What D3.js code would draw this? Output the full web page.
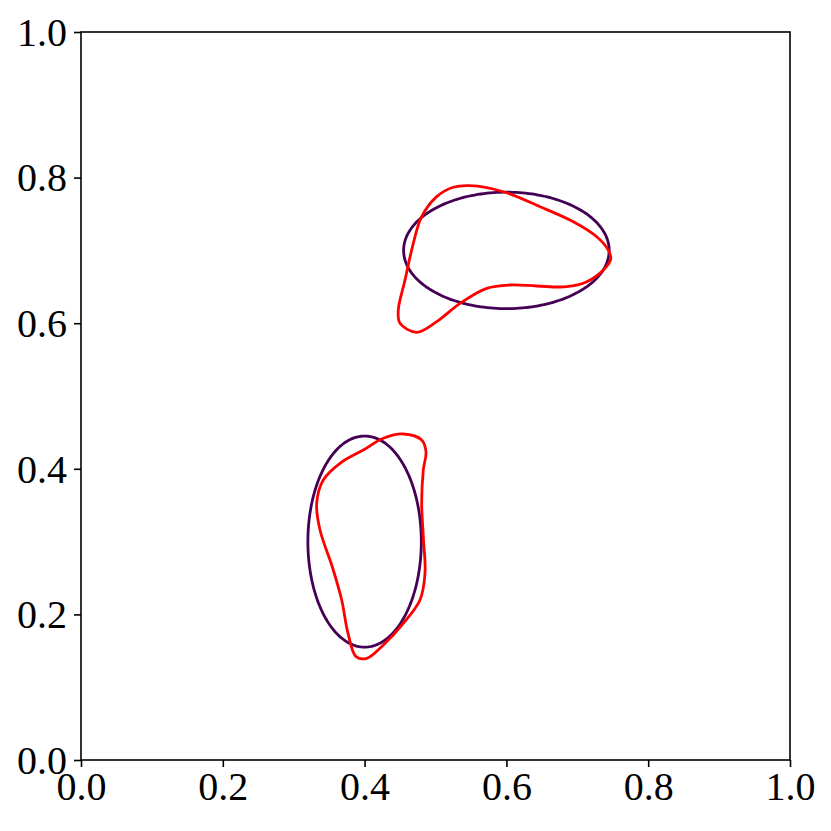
<!DOCTYPE html>
<html><head><meta charset="utf-8">
<script src="https://cdn.jsdelivr.net/npm/d3@7"></script>
<style>body{margin:0;background:#fff}</style>
</head><body>
<svg id="c" width="831" height="831"></svg>
<script>
const tickValues = [0.0, 0.2, 0.4, 0.6, 0.8, 1.0];
const ellipses = [
  {cx: 0.6, cy: 0.7, rx: 0.145, ry: 0.08},
  {cx: 0.4, cy: 0.3, rx: 0.08, ry: 0.145}
];
const redCurveUpper = [
  [0.5487,0.7889],[0.5956,0.7806],[0.6474,0.7600],[0.6944,0.7394],[0.7274,0.7188],
  [0.7437,0.7005],[0.7471,0.6878],[0.7367,0.6731],[0.7133,0.6570],[0.6850,0.6501],
  [0.6427,0.6511],[0.6051,0.6525],[0.5722,0.6479],[0.5346,0.6273],[0.5017,0.6021],
  [0.4735,0.5875],[0.4499,0.5999],[0.4475,0.6181],[0.4570,0.6593],[0.4687,0.7098],
  [0.4805,0.7463],[0.5017,0.7738],[0.5251,0.7867]
];
const redCurveLower = [
  [0.4546,0.4478],[0.4805,0.4396],[0.4866,0.4235],[0.4828,0.3984],[0.4805,0.3526],
  [0.4828,0.3067],[0.4852,0.2565],[0.4781,0.2198],[0.4546,0.1878],[0.4264,0.1580],
  [0.4030,0.1397],[0.3880,0.1420],[0.3766,0.1740],[0.3677,0.2198],[0.3544,0.2655],
  [0.3371,0.3159],[0.3324,0.3526],[0.3417,0.3846],[0.3653,0.4076],[0.3982,0.4258],
  [0.4264,0.4419]
];

const svg = d3.select("#c");
const L = 81, R = 790, T = 32, B = 760;
const x = d3.scaleLinear().domain([0,1]).range([L,R]);
const y = d3.scaleLinear().domain([0,1]).range([B,T]);
const font = "'Liberation Serif', serif";

const ellPts = e => d3.range(0, 200).map(i => {
  const t = i/200*2*Math.PI;
  return [x(e.cx + e.rx*Math.cos(t)), y(e.cy + e.ry*Math.sin(t))];
});
svg.selectAll("path.ell").data(ellipses).enter().append("path")
  .attr("d", e => d3.line().curve(d3.curveLinearClosed)(ellPts(e)))
  .attr("fill","none").attr("stroke","#440154").attr("stroke-width",2.8);

const redLine = d3.line().x(d=>x(d[0])).y(d=>y(d[1])).curve(d3.curveCatmullRomClosed.alpha(0.5));
svg.selectAll("path.red").data([redCurveUpper, redCurveLower]).enter().append("path")
  .attr("d", redLine).attr("fill","none").attr("stroke","#ff0000").attr("stroke-width",2.8);

const xa = svg.append("g").attr("transform",`translate(0,${B})`)
  .call(d3.axisBottom(x).tickValues(tickValues).tickFormat(d3.format(".1f")).tickSizeOuter(0).tickSizeInner(7).tickPadding(5));
const ya = svg.append("g").attr("transform",`translate(${L},0)`)
  .call(d3.axisLeft(y).tickValues(tickValues).tickFormat(d3.format(".1f")).tickSizeOuter(0).tickSizeInner(7).tickPadding(7));
[xa, ya].forEach(g => {
  g.select(".domain").remove();
  g.selectAll("line").attr("stroke","#000").attr("stroke-width",1.6);
  g.selectAll("text").attr("font-family",font).attr("font-size",40).attr("fill","#000");
});
ya.selectAll("text").attr("dy","0.33em");
svg.append("rect").attr("x",L).attr("y",T).attr("width",R-L).attr("height",B-T)
  .attr("fill","none").attr("stroke","#000").attr("stroke-width",1.6);
</script>
</body></html>
